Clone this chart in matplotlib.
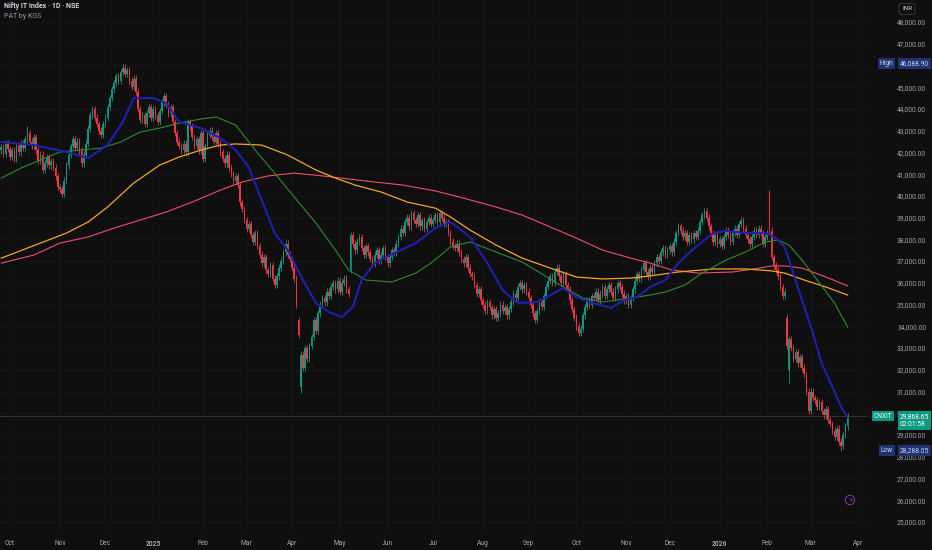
import matplotlib
matplotlib.use("Agg")
import matplotlib.pyplot as plt
import matplotlib.transforms as mtransforms
import numpy as np
import pandas as pd

plt.rcParams["font.family"] = ["Roboto", "DejaVu Sans"]

BG = "#0f0f0f"
UP = "#089981"
DOWN = "#f23645"
TXT = "#a3a6af"

START = "2024-09-25"

# daily closes, one list per month
close_2024_09 = [42250, 41950, 42400, 42150]
close_2024_10 = [41800, 42100, 41700, 42300, 42000, 42400,
                 42200, 42600, 42900, 42500, 42300, 42700, 42100,
                 41600, 41900, 41200, 41500, 41800, 41400,
                 41600, 41300, 40900, 40400]
close_2024_11 = [40300, 40100, 40700,
                 41400, 41900, 42300, 42600, 42200, 42500, 42100, 41500, 41900,
                 42400, 43100, 43700, 44000, 43600, 43300,
                 43000, 42800, 43300]
close_2024_12 = [43600, 44100, 44500, 44900, 45200,
                 45500, 45300, 45700, 45900, 45600,
                 45800, 45300, 45000, 45400, 44800,
                 44000, 43500, 43700, 43300, 43800, 44100, 43600]
close_2025_01 = [44000, 43700, 43400, 43900, 44300, 44600, 44200, 43800, 44100,
                 43400, 42900, 42500, 42300, 42100, 42400, 42000,
                 43400, 43200, 42700,
                 42300, 42600, 42100, 42900]
close_2025_02 = [41700, 42300,
                 42800, 43000, 42700, 42500, 42900,
                 42400, 42000, 41700, 41500, 41900,
                 41300, 41000, 40700, 40900,
                 40500, 39700, 39400, 38900]
close_2025_03 = [38500, 38700, 38200, 37900, 38300, 37700,
                 37300, 36900, 37200, 36600, 36400, 36800,
                 36200, 35900, 36300, 36700,
                 37000, 37400, 37800, 37300, 37100]
close_2025_04 = [36700, 36200, 35000, 33600, 32700,
                 32100, 33000, 32500, 33100, 33500,
                 34300, 33800, 34600, 35000,
                 35300, 35100, 35600, 35400, 35800, 36000, 35700, 36100]
close_2025_05 = [35600, 36000, 36200, 35700, 35500, 38200,
                 37800, 37500, 37900, 38100, 37600, 37300, 37700, 37400, 37100,
                 36900, 37300, 37500, 37000, 37300, 37600, 37200]
close_2025_06 = [36900, 37200, 37500, 37400,
                 37800, 38100, 38500, 38300, 38800, 39000, 38600, 39200, 38900,
                 38700, 39100, 38600, 38900, 38500, 38800, 39000, 38700]
close_2025_07 = [38900, 39100, 38800, 39200, 39000, 38700,
                 38800, 38300, 37900, 37700,
                 37600, 37800, 37400, 37100, 36900, 37200, 36700, 36400, 36300,
                 35900, 35500, 35700, 35200]
close_2025_08 = [35000, 34700, 35100, 34900, 34500, 34800, 34400, 34600, 35000,
                 34700, 34900, 34500, 34800, 35100,
                 35500, 35300, 35800, 36000, 35700, 35900, 35600]
close_2025_09 = [35300, 35000, 34600, 34300, 34700, 35100, 34900,
                 35400, 35800, 36100, 36300, 36000, 36500, 36700,
                 36300, 36000, 36400, 35900, 35700,
                 35200, 34800, 34400]
close_2025_10 = [34000, 33700, 33900,
                 34500, 34900, 35200, 35000, 35400,
                 35300, 35600, 35200, 35500, 35800, 35400, 35700, 35900, 35600, 35300, 35700,
                 36000, 35800, 35500, 35200]
close_2025_11 = [35400, 35000, 35300, 35700,
                 36100, 36400, 36200, 36600, 36900, 36500,
                 36300, 36700, 36500, 36900, 37200, 37000, 37400, 37600, 37300, 37500]
close_2025_12 = [37700, 37400, 37900, 38300,
                 38600, 38400, 38100, 38300, 37900, 38200, 38000, 38300, 38100,
                 38400, 38800, 39100, 39300,
                 39000, 38600, 38300, 37900, 38200, 37800]
close_2026_01 = [38000, 37700, 38100, 38400, 38200, 37900, 38300,
                 38500, 38200, 38700, 38900, 38500, 38200, 38000,
                 37800, 38100, 38400, 38200, 38500, 38300, 37800, 38100]
close_2026_02 = [38300, 38400, 37200, 36800, 36600, 36300,
                 35800, 35400, 35600, 33100,
                 33400, 33000, 32500, 32800,
                 32300, 32600, 32100, 31800,
                 31000, 30100]
close_2026_03 = [31000, 30700, 30600,
                 30300, 30500, 30100, 29900, 30200, 29700, 29500,
                 29200, 28900, 29300, 28700, 28500,
                 29000, 29400, 29868.65]

first_open = 42100
# bar index -> open, for days that gapped
gap_opens = {137: 34300, 138: 31200, 161: 36600, 354: 40200, 362: 34400, 363: 32000}
# bar index -> notable wick extremes
bar_highs = {12: 43200, 57: 46088.90, 354: 40270}
bar_lows = {28: 39950, 138: 30930, 363: 31400, 387: 28288.05}
wick = 150

# moving averages: (bar index, value)
blue_idx = [0, 15, 30, 40, 49, 56, 61, 70, 76, 82, 92, 101, 108, 114, 120, 126, 132, 139, 145, 151,
            157, 162, 166, 172, 181, 191, 200, 207, 216, 224, 231, 238, 247, 259, 265, 271, 281, 287,
            293, 299, 306, 312, 320, 328, 334, 343, 352, 357, 361, 364, 369, 374, 378, 383, 387, 390]
blue_val = [42480, 42340, 42020, 41740, 42340, 43400, 44500, 44500, 44270, 43400, 43120, 42660, 42110,
            41330, 39810, 38290, 37510, 36130, 35070, 34660, 34430, 34890, 36130, 36910, 37370, 37830,
            38520, 38800, 38110, 36910, 35670, 35070, 35120, 35760, 35350, 35120, 34840, 35210, 35350,
            35810, 36130, 36910, 37650, 38290, 38390, 38290, 38290, 38060, 37650, 36730, 35210, 33690,
            32310, 31210, 30290, 29830]
green_idx = [0, 9, 18, 27, 36, 46, 55, 64, 73, 82, 92, 99, 108, 117, 126, 135, 145, 154, 160, 168,
             180, 191, 198, 207, 216, 228, 240, 250, 259, 268, 277, 290, 299, 306, 315, 323, 334, 343,
             352, 358, 363, 369, 376, 384, 390]
green_val = [40820, 41280, 41650, 42020, 42110, 42200, 42480, 42940, 43120, 43350, 43540, 43630, 43260,
             42110, 41050, 39950, 38750, 37510, 36590, 36130, 36040, 36450, 36910, 37650, 37880, 37420,
             36960, 36360, 35810, 35300, 35120, 35300, 35440, 35580, 35900, 36450, 37050, 37420, 37880,
             37970, 37740, 37050, 36130, 35070, 33970]
orange_idx = [0, 18, 30, 40, 49, 61, 73, 82, 92, 101, 108, 120, 132, 145, 154, 163, 175, 187, 200, 207,
              216, 228, 240, 253, 265, 277, 290, 299, 312, 328, 343, 355, 361, 370, 380, 390]
orange_val = [37140, 37830, 38290, 38800, 39490, 40590, 41420, 41790, 42110, 42340, 42390, 42340, 41880,
              41190, 40820, 40500, 40180, 39720, 39440, 39030, 38430, 37740, 37140, 36680, 36270, 36180,
              36220, 36320, 36500, 36640, 36640, 36550, 36450, 36130, 35810, 35440]
red_idx = [0, 15, 27, 40, 52, 64, 76, 88, 101, 111, 123, 135, 148, 160, 172, 185, 200, 213, 228, 240,
           253, 265, 277, 290, 299, 309, 321, 337, 347, 355, 361, 369, 380, 390]
red_val = [36910, 37280, 37830, 38110, 38520, 38890, 39260, 39720, 40270, 40640, 40920, 41050, 40920,
           40780, 40640, 40500, 40230, 39900, 39490, 39120, 38570, 38060, 37510, 37140, 36910, 36590,
           36450, 36500, 36640, 36780, 36780, 36680, 36270, 35860]

price_ticks = list(range(25000, 49000, 1000))
hidden_ticks = [46000]  # covered by the High badge in the original
last_clock = "02:01:58"

closes = np.array(close_2024_09 + close_2024_10 + close_2024_11 + close_2024_12 +
                  close_2025_01 + close_2025_02 + close_2025_03 + close_2025_04 +
                  close_2025_05 + close_2025_06 + close_2025_07 + close_2025_08 +
                  close_2025_09 + close_2025_10 + close_2025_11 + close_2025_12 +
                  close_2026_01 + close_2026_02 + close_2026_03, dtype=float)
n = len(closes)
bars = np.arange(n)

opens = np.r_[first_open, closes[:-1]]
for k, v in gap_opens.items():
    opens[k] = v
highs = np.maximum(opens, closes) + wick
lows = np.minimum(opens, closes) - wick
for k, v in bar_highs.items():
    highs[k] = v
for k, v in bar_lows.items():
    lows[k] = v

colors = np.where(closes >= opens, UP, DOWN)
body_low = np.minimum(opens, closes)
body_h = np.maximum(np.abs(closes - opens), 30)

fig = plt.figure(figsize=(9.32, 5.5), dpi=100, facecolor=BG)
ax = fig.add_axes([0, 18 / 550, 868 / 932, 532 / 550], facecolor=BG)

ax.vlines(bars, lows, highs, colors=colors, lw=0.6, zorder=3)
ax.bar(bars, body_h, bottom=body_low, width=0.75, color=colors, linewidth=0, zorder=3)

ax.plot(red_idx, red_val, color="#ef4f6a", lw=0.8, zorder=4, solid_joinstyle="round")
ax.plot(orange_idx, orange_val, color="#f5a623", lw=0.9, zorder=4, solid_joinstyle="round")
ax.plot(green_idx, green_val, color="#2e8b2e", lw=0.8, zorder=4, solid_joinstyle="round")
ax.plot(blue_idx, blue_val, color="#1f1fb0", lw=1.5, zorder=5, solid_joinstyle="round")

ax.axhline(closes[-1], color="#3a3a3a", lw=0.6, zorder=2)

ax.set_xlim(-0.6, 399.4)
ax.set_ylim(24540, 49012)

# month ticks at the first bar of each month
dates = pd.bdate_range(START, periods=n + 12)
tick_pos, tick_lab = [], []
for i in range(1, len(dates)):
    if dates[i].month != dates[i - 1].month and i <= 399:
        tick_pos.append(i)
        tick_lab.append(str(dates[i].year) if dates[i].month == 1 else dates[i].strftime("%b"))
ax.set_xticks(tick_pos)
ax.set_xticklabels(tick_lab)
for lab in ax.get_xticklabels():
    if lab.get_text().isdigit():
        lab.set_color("#d1d4dc")
        lab.set_fontweight("bold")

ax.yaxis.tick_right()
ax.set_yticks(price_ticks)
ax.set_yticklabels(["" if p in hidden_ticks else f"{p:,.2f}" for p in price_ticks])
for lab in ax.get_yticklabels():
    lab.set_horizontalalignment("right")

ax.tick_params(axis="x", length=0, pad=6, labelsize=4.8, labelcolor=TXT)
ax.tick_params(axis="y", length=0, pad=42, labelsize=4.8, labelcolor=TXT)
ax.grid(True, color="#171717", lw=0.5, zorder=0)
for s in ax.spines.values():
    s.set_visible(False)

# price scale badges
blend = mtransforms.blended_transform_factory(fig.transFigure, ax.transData)


def badge(x_px, price, text, fc, tc, dy=0, ha="left"):
    ax.annotate(text, xy=(x_px / 932, price), xycoords=blend, xytext=(0, dy),
                textcoords="offset points", ha=ha, va="center", fontsize=4.8, color=tc,
                annotation_clip=False, zorder=10,
                bbox=dict(boxstyle="square,pad=0.25", fc=fc, ec="none"))


high_v = highs.max()
low_v = lows.min()
badge(893, high_v, "High", "#1e3370", "#c9d3f5", ha="right")
badge(900, high_v, f"{high_v:,.2f}", "#1e3370", "#c9d3f5")
badge(892, closes[-1], "CNXIT", UP, "white", ha="right")
badge(900, closes[-1], f"{closes[-1]:,.2f}\n{last_clock}", UP, "white", dy=-3.2)
badge(893, low_v, "Low", "#1e3370", "#c9d3f5", ha="right")
badge(900, low_v, f"{low_v:,.2f}", "#1e3370", "#c9d3f5")

# header text
fig.text(4 / 932, 1 - 6 / 550, "Nifty IT Index · 1D · NSE", fontsize=5, color="#d1d4dc",
         fontweight="bold", va="center")
fig.text(4 / 932, 1 - 16 / 550, "PAT by KGS", fontsize=5, color="#9598a1", va="center")
fig.text(902 / 932, 1 - 9 / 550, "INR", fontsize=4.6, color="#d1d4dc", va="center",
         bbox=dict(boxstyle="round,pad=0.45,rounding_size=0.2", fc=BG, ec="#3a3d46", lw=0.6))
fig.text(850 / 932, 1 - 500 / 550, "ϟ", fontsize=4.5, color="#b05ad0", ha="center", va="center",
         family="DejaVu Sans",
         bbox=dict(boxstyle="circle,pad=0.35", fc=BG, ec="#9c3fc0", lw=0.6))

fig.savefig("out.png", dpi=100, facecolor=BG)
